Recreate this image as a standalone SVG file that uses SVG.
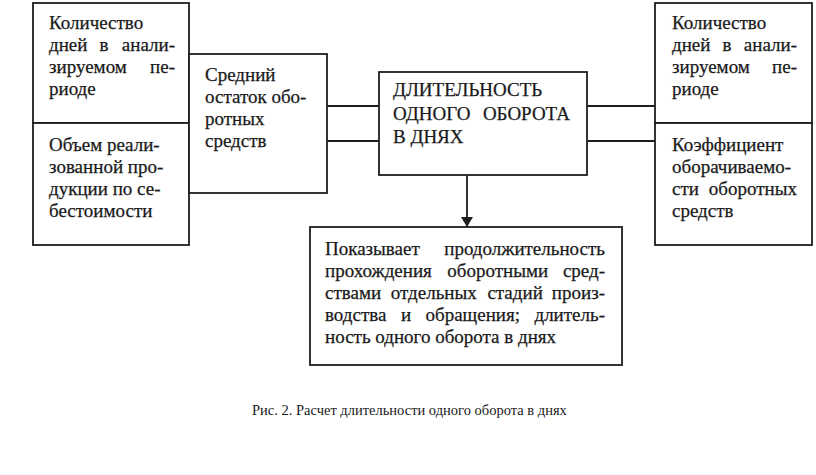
<svg xmlns="http://www.w3.org/2000/svg" width="816" height="475" viewBox="0 0 816 475">
<defs>
<style>
.box{fill:#fff;stroke:#1e1e1e;stroke-width:1.8}
.ln{fill:none;stroke:#1e1e1e;stroke-width:1.8}
.t{font-family:'Liberation Serif','Times New Roman',serif;font-size:19px;fill:#1a1a1a;stroke:#1a1a1a;stroke-width:0.25}
.cap{font-family:'Liberation Serif','Times New Roman',serif;font-size:14.5px;fill:#1a1a1a}
.e{text-anchor:end}
</style>
<marker id="arr" markerWidth="10" markerHeight="12" refX="10" refY="6" orient="auto" markerUnits="userSpaceOnUse" viewBox="0 0 10 12">
<path d="M0,0 L10,6 L0,12 Z" fill="#1e1e1e"/>
</marker>
</defs>
<rect width="816" height="475" fill="#fff"/>
<g id="connectors">
<line class="ln" x1="327" y1="106" x2="379" y2="106"/>
<line class="ln" x1="327" y1="141" x2="379" y2="141"/>
<line class="ln" x1="587" y1="106" x2="655" y2="106"/>
<line class="ln" x1="587" y1="141" x2="655" y2="141"/>
<line class="ln" x1="467" y1="175" x2="467" y2="227" marker-end="url(#arr)"/>
</g>
<g id="left-days">
<rect class="box" x="33" y="3" width="156" height="120"/>
<text class="t" x="49" y="29">Количество</text>
<text class="t" y="51"><tspan x="49">дней</tspan><tspan x="99.5">в</tspan><tspan class="e" x="175">анали-</tspan></text>
<text class="t" y="73"><tspan x="49">зируемом</tspan><tspan class="e" x="175">пе-</tspan></text>
<text class="t" x="49" y="95">риоде</text>
</g>
<g id="left-volume">
<rect class="box" x="33" y="123" width="156" height="122"/>
<text class="t" x="49" y="151">Объем реали-</text>
<text class="t" x="49" y="173">зованной про-</text>
<text class="t" x="49" y="195">дукции по се-</text>
<text class="t" x="49" y="217">бестоимости</text>
</g>
<g id="avg-balance">
<rect class="box" x="189" y="54" width="138" height="139"/>
<text class="t" x="205" y="81">Средний</text>
<text class="t" x="205" y="103">остаток обо-</text>
<text class="t" x="205" y="125">ротных</text>
<text class="t" x="205" y="147">средств</text>
</g>
<g id="duration">
<rect class="box" x="379" y="72" width="208" height="103"/>
<text class="t" x="393" y="96">ДЛИТЕЛЬНОСТЬ</text>
<text class="t" y="120"><tspan x="393">ОДНОГО</tspan><tspan class="e" x="570">ОБОРОТА</tspan></text>
<text class="t" x="393" y="143">В ДНЯХ</text>
</g>
<g id="right-days">
<rect class="box" x="655" y="3" width="157" height="120"/>
<text class="t" x="672" y="29">Количество</text>
<text class="t" y="51"><tspan x="672">дней</tspan><tspan x="722.5">в</tspan><tspan class="e" x="797">анали-</tspan></text>
<text class="t" y="73"><tspan x="672">зируемом</tspan><tspan class="e" x="797">пе-</tspan></text>
<text class="t" x="672" y="95">риоде</text>
</g>
<g id="right-coef">
<rect class="box" x="655" y="123" width="157" height="122"/>
<text class="t" x="672" y="151">Коэффициент</text>
<text class="t" x="672" y="173">оборачиваемо-</text>
<text class="t" y="195"><tspan x="672">сти</tspan><tspan class="e" x="797">оборотных</tspan></text>
<text class="t" x="672" y="217">средств</text>
</g>
<g id="description">
<rect class="box" x="310" y="227" width="312" height="138"/>
<text class="t" y="255"><tspan x="325">Показывает</tspan><tspan class="e" x="605">продолжительность</tspan></text>
<text class="t" y="277"><tspan x="325">прохождения</tspan><tspan x="447.3">оборотными</tspan><tspan class="e" x="605">сред-</tspan></text>
<text class="t" y="299"><tspan x="325">ствами</tspan><tspan x="390.8">отдельных</tspan><tspan x="487.4">стадий</tspan><tspan class="e" x="605">произ-</tspan></text>
<text class="t" y="321"><tspan x="325">водства</tspan><tspan x="401">и</tspan><tspan x="425.5">обращения;</tspan><tspan class="e" x="605">длитель-</tspan></text>
<text class="t" x="325" y="343">ность одного оборота в днях</text>
</g>
<text class="cap" x="252" y="415">Рис. 2. Расчет длительности одного оборота в днях</text>
</svg>
